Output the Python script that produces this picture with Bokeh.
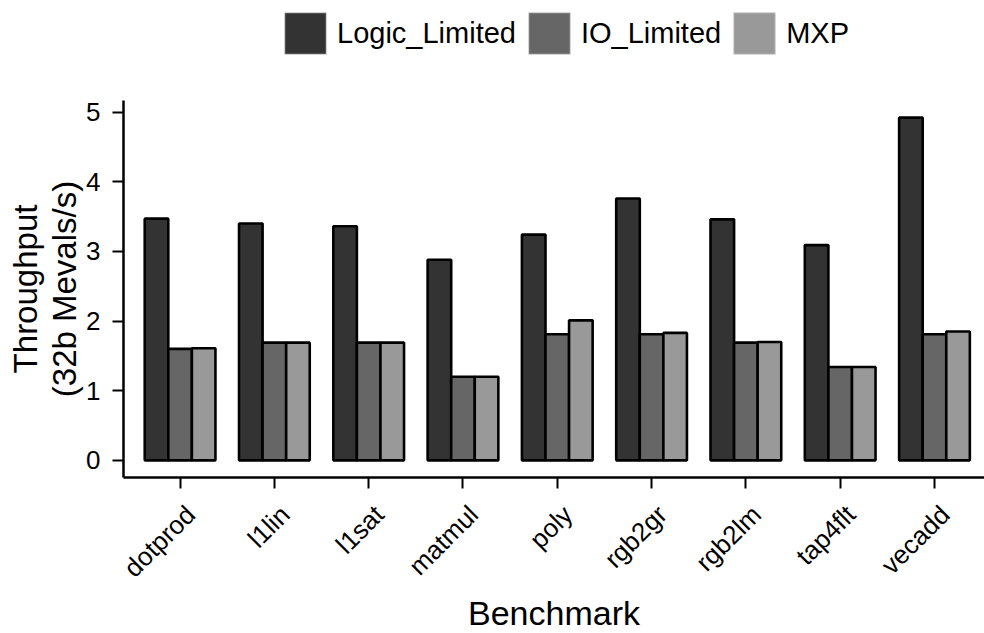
from bokeh.plotting import figure
from bokeh.layouts import column
from bokeh.models import Range1d, FixedTicker, Legend, LegendItem, Title
from bokeh.core.properties import value
from bokeh.embed import file_html
from bokeh.resources import INLINE

# ---- data ----
benchmarks = ["dotprod", "l1lin", "l1sat", "matmul", "poly", "rgb2gr", "rgb2lm", "tap4flt", "vecadd"]
series_names = ["Logic_Limited", "IO_Limited", "MXP"]
logic_limited = [3.47, 3.40, 3.36, 2.88, 3.24, 3.76, 3.46, 3.09, 4.92]
io_limited = [1.60, 1.69, 1.69, 1.20, 1.81, 1.81, 1.69, 1.34, 1.81]
mxp = [1.61, 1.69, 1.69, 1.20, 2.01, 1.83, 1.70, 1.34, 1.85]
y_ticks = [0, 1, 2, 3, 4, 5]
y_title_lines = ["Throughput", "(32b Mevals/s)"]
colors = ["#333333", "#666666", "#999999"]

# ---- layout ----
W = 984
LEFT = 123                  # left edge of the data panel
FRAME_H = 477               # canvas y of the data panel's bottom (frame starts at canvas top)
PANEL_TOP = 100             # canvas y where the data panel starts
px_per_cat = 94.3
frame_w = W - LEFT

all_vals = logic_limited + io_limited + mxp
vmax = max(all_vals)
pad = 0.05 * vmax
y_lo, y_hi = -pad, vmax + pad
y_top = y_lo + (y_hi - y_lo) * FRAME_H / (FRAME_H - PANEL_TOP)
x_lo = 0.4
x_hi = x_lo + frame_w / px_per_cat

FONT = "Liberation Sans"

p = figure(frame_width=frame_w, frame_height=FRAME_H, output_backend="svg", toolbar_location=None,
           x_range=Range1d(x_lo, x_hi), y_range=Range1d(y_lo, y_top),
           min_border_left=LEFT, min_border_right=0, min_border_top=0,
           min_border_bottom=12)
p.outline_line_color = None
p.grid.visible = False
p.background_fill_color = "white"
p.border_fill_color = "white"

bar_w = 0.25
offsets = [-bar_w, 0.0, bar_w]
xs = list(range(1, len(benchmarks) + 1))
items = []
for name, vals, off, col in zip(series_names, [logic_limited, io_limited, mxp], offsets, colors):
    bx = [x + off for x in xs]
    r_fill = p.vbar(x=bx, top=vals, bottom=0, width=bar_w,
                    fill_color=col, line_color="#d4d4d4", line_width=1)
    p.vbar(x=bx, top=vals, bottom=0, width=bar_w,
           fill_color=None, line_color="black", line_width=2.6)
    items.append(LegendItem(label=name, renderers=[r_fill]))

legend = Legend(items=items, orientation="horizontal",
                location=(279 - LEFT, FRAME_H - 59),
                glyph_width=52, glyph_height=52, label_height=52,
                label_standoff=6, spacing=7, padding=0, margin=0,
                border_line_color=None, background_fill_alpha=0,
                label_text_font=FONT, label_text_font_size="29px",
                label_text_color="black")
p.add_layout(legend, "center")

# x axis: tick marks only (as unlabeled minor ticks); rotated labels are drawn in the strip below
xa = p.xaxis[0]
xa.ticker = FixedTicker(ticks=[], minor_ticks=xs)
xa.major_tick_line_color = None
xa.minor_tick_in = 0
xa.minor_tick_out = 11
xa.minor_tick_line_width = 2
xa.minor_tick_line_color = "black"
xa.axis_line_width = 2.5

# y axis
ya = p.yaxis[0]
ya.ticker = FixedTicker(ticks=y_ticks)
ya.bounds = (y_lo, y_hi)
ya.minor_tick_line_color = None
ya.major_tick_in = 0
ya.major_tick_out = 11
ya.major_tick_line_width = 2
ya.axis_line_width = 2.5
ya.major_label_standoff = 12
ya.major_label_text_font = FONT
ya.major_label_text_font_size = "26px"
ya.major_label_text_color = "black"

# y title: two lines, each centred on the data panel (Liberation Sans advance widths, em units)
TITLE_PX = 33
em_widths = {"T": 0.611, "h": 0.556, "r": 0.333, "o": 0.556, "u": 0.556, "g": 0.556, "p": 0.556,
             "t": 0.278, "(": 0.333, ")": 0.333, "3": 0.556, "2": 0.556, "b": 0.556, " ": 0.278,
             "M": 0.833, "e": 0.556, "v": 0.5, "a": 0.556, "l": 0.222, "s": 0.5, "/": 0.278}
panel_center_from_bottom = (FRAME_H - PANEL_TOP) / 2
for line, standoff in [(y_title_lines[1], 1), (y_title_lines[0], 0)]:
    text_len = sum(em_widths[c] for c in line) * TITLE_PX
    t = Title(text=line, align="left", offset=panel_center_from_bottom - text_len / 2,
              standoff=standoff, text_font=FONT, text_font_size=f"{TITLE_PX}px",
              text_font_style="normal", text_color="black")
    p.add_layout(t, "left")

# ---- strip with rotated category labels and the x title (shares the x range) ----
strip_h = 100
p2 = figure(frame_width=frame_w, frame_height=strip_h, output_backend="svg", toolbar_location=None,
            x_range=p.x_range, y_range=Range1d(-strip_h, 0),
            x_axis_location=None, y_axis_location=None,
            min_border_left=LEFT, min_border_right=0, min_border_top=0, min_border_bottom=0)
p2.outline_line_color = None
p2.grid.visible = False
p2.text(x=xs, y=-10, text=benchmarks, angle=45, angle_units="deg",
        text_align="right", text_baseline="top",
        text_font=value(FONT), text_font_size=value("26px"), text_color="black")
xtitle = Title(text="Benchmark", align="center", standoff=4,
               text_font=FONT, text_font_size="34px", text_font_style="normal",
               text_color="black")
p2.add_layout(xtitle, "below")

layout = column(p, p2, spacing=0)
open("out.html", "w").write(file_html(layout, INLINE))
